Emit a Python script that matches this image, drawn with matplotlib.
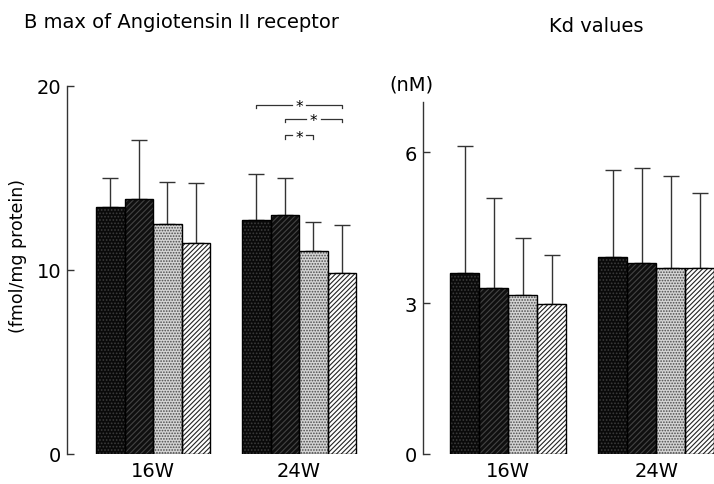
import numpy as np
import matplotlib
matplotlib.use("Agg")
import matplotlib.pyplot as plt

plt.rcParams['font.family'] = ['DejaVu Sans']
plt.rcParams['hatch.linewidth'] = 0.8

# ---- data ----
weeks = ["16W", "24W"]
# four groups (bar patterns), values per week
bmax_mean = [[13.40, 12.70], [13.86, 12.99], [12.50, 11.00], [11.45, 9.82]]
bmax_sd = [[1.60, 2.53], [3.21, 1.99], [2.27, 1.61], [3.26, 2.61]]
kd_mean = [[3.59, 3.92], [3.31, 3.79], [3.16, 3.70], [2.99, 3.70]]
kd_sd = [[2.53, 1.73], [1.77, 1.90], [1.13, 1.83], [0.97, 1.49]]
# significance brackets in 24W group of Bmax: (bar i, bar j, height)
sig_pairs = [(0, 3, 18.95), (1, 3, 18.2), (1, 2, 17.3)]

bmax_ticks = [0, 10, 20]
kd_ticks = [0, 3, 6]

# ---- styles ----
styles = [
    dict(face='#0a0a0a', hatch='.....', hcol='#3c3c3c'),
    dict(face='#0f0f0f', hatch='//////', hcol='#444444'),
    dict(face='#d4d4d4', hatch='......', hcol='#4a4a4a'),
    dict(face='#ffffff', hatch='///////', hcol='#222222'),
]

W, H = 714, 485
fig = plt.figure(figsize=(W / 100, H / 100), dpi=100)


def draw_panel(ax, means, sds, bw):
    x = np.arange(len(weeks))
    offs = (np.arange(4) - 1.5) * bw
    for k in range(4):
        st = styles[k]
        xs = x + offs[k]
        ax.bar(xs, means[k], bw, color=st['face'], hatch=st['hatch'],
               edgecolor=st['hcol'], linewidth=0, zorder=2)
        ax.bar(xs, means[k], bw, fill=False, edgecolor='black',
               linewidth=1.0, zorder=3)
        lower = np.zeros(len(weeks))
        ax.errorbar(xs, means[k], yerr=[lower, sds[k]], fmt='none',
                    ecolor='#333333', elinewidth=1.0, capsize=6,
                    capthick=1.0, zorder=1)
    for s in ['top', 'right', 'bottom']:
        ax.spines[s].set_visible(False)
    ax.spines['left'].set_color('#333333')
    ax.spines['left'].set_linewidth(1.0)
    ax.tick_params(axis='y', direction='in', length=5, width=1.0,
                   labelsize=14, pad=4, color='#333333')
    ax.tick_params(axis='x', length=0, labelsize=14, pad=5)
    ax.set_xticks(x)
    ax.set_xticklabels(weeks)
    return offs


# left panel
axL = fig.add_axes([67 / W, 1 - 455 / H, 293 / W, (455 - 86.7) / H])
offsL = draw_panel(axL, bmax_mean, bmax_sd, 28.5 / 146)
axL.set_xlim(-86 / 146, -86 / 146 + 293 / 146)
axL.set_ylim(0, 20)
axL.set_yticks(bmax_ticks)

for i, j, h in sig_pairs:
    x1 = 1 + offsL[i]
    x2 = 1 + offsL[j]
    xm = (x1 + x2) / 2
    gap = 0.05
    tick = 0.18
    axL.plot([x1, x1, xm - gap], [h - tick, h, h], color='#333333', lw=0.9,
             clip_on=False)
    axL.plot([xm + gap, x2, x2], [h, h, h - tick], color='#333333', lw=0.9,
             clip_on=False)
    axL.text(xm, h - 0.1, "*", ha='center', va='center', fontsize=11)

# right panel
axR = fig.add_axes([422.7 / W, 1 - 455 / H, 291.3 / W, 7 * 50.3 / H])
draw_panel(axR, kd_mean, kd_sd, 29 / 148.3)
axR.set_xlim(-85.3 / 148.3, -85.3 / 148.3 + 291.3 / 148.3)
axR.set_ylim(0, 7)
axR.set_yticks(kd_ticks)

# texts
fig.text(18 / W, 1 - 256 / H, "(fmol/mg protein)", rotation=90,
         ha='center', va='center', fontsize=12.5)
fig.text(182 / W, 1 - 22 / H, "B max of Angiotensin II receptor",
         ha='center', va='center', fontsize=14)
fig.text(596 / W, 1 - 26 / H, "Kd values", ha='center', va='center',
         fontsize=14)
fig.text(411 / W, 1 - 85 / H, "(nM)", ha='center', va='center', fontsize=14)

fig.savefig("out.png", dpi=100)
